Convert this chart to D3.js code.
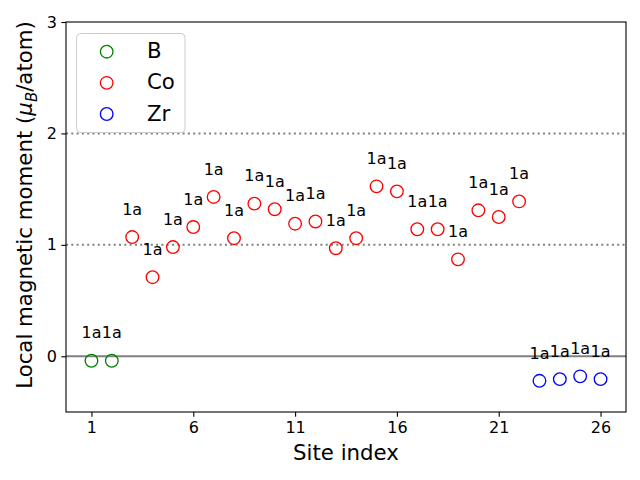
<!DOCTYPE html>
<html><head><meta charset="utf-8">
<script src="https://cdn.jsdelivr.net/npm/d3@7"></script>
<style>body{margin:0;background:#fff}svg{display:block;font-family:"DejaVu Sans",sans-serif}</style>
</head><body><svg id="c" width="640" height="480"></svg>
<script>
const siteIndex = d3.range(1, 27);
const species = ["B","B","Co","Co","Co","Co","Co","Co","Co","Co","Co","Co","Co","Co","Co","Co","Co","Co","Co","Co","Co","Co","Zr","Zr","Zr","Zr"];
const moments = [-0.04,-0.04,1.07,0.71,0.98,1.16,1.43,1.06,1.37,1.32,1.19,1.21,0.97,1.06,1.525,1.48,1.14,1.14,0.87,1.31,1.25,1.39,-0.22,-0.205,-0.18,-0.205];
const wyckoff = Array(26).fill("1a");
const legendNames = ["B","Co","Zr"];
const legendColors = ["green","red","blue"];
const xTicks = [1,6,11,16,21,26];
const yTicks = [0,1,2,3];
const refLines = [1,2];

const svg = d3.select("#c");
const L=66,R=626,T=22,B=412;
const x = d3.scaleLinear().domain([-0.25,27.25]).range([L,R]);
const y = d3.scaleLinear().domain([-0.5,3]).range([B,T]);
const color = d3.scaleOrdinal().domain(legendNames).range(legendColors);

// reference lines
svg.selectAll(".ref").data(refLines).enter().append("line")
  .attr("x1",L).attr("x2",R).attr("y1",d=>y(d)).attr("y2",d=>y(d))
  .attr("stroke","gray").attr("stroke-width",2).attr("stroke-dasharray","2,3.3");
svg.append("line").attr("x1",L).attr("x2",R).attr("y1",y(0)).attr("y2",y(0))
  .attr("stroke","gray").attr("stroke-width",2);

// points
const data = siteIndex.map((s,i)=>({s,v:moments[i],sp:species[i],w:wyckoff[i]}));
svg.selectAll(".pt").data(data).enter().append("circle")
  .attr("cx",d=>x(d.s)).attr("cy",d=>y(d.v)).attr("r",6.3)
  .attr("fill","none").attr("stroke",d=>color(d.sp)).attr("stroke-width",1.33);
svg.selectAll(".lbl").data(data).enter().append("text")
  .attr("x",d=>x(d.s)).attr("y",d=>y(d.v+0.2)).attr("text-anchor","middle")
  .attr("font-size","16px").attr("fill","#000").text(d=>d.w);

// axes
const xa = svg.append("g").attr("transform",`translate(0,${B})`)
  .call(d3.axisBottom(x).tickValues(xTicks).tickSize(4.67).tickPadding(4.5).tickFormat(d3.format("d")));
const ya = svg.append("g").attr("transform",`translate(${L},0)`)
  .call(d3.axisLeft(y).tickValues(yTicks).tickSize(4.67).tickPadding(4.5).tickFormat(d3.format("d")));
[xa,ya].forEach(g=>{g.select(".domain").remove();
  g.selectAll("text").attr("font-size","16px").attr("font-family","DejaVu Sans").attr("fill","#000");
  g.selectAll("line").attr("stroke","#000").attr("stroke-width",1.1);});
svg.append("rect").attr("x",L).attr("y",T).attr("width",R-L).attr("height",B-T)
  .attr("fill","none").attr("stroke","#000").attr("stroke-width",1.1);

// axis labels
svg.append("text").attr("x",(L+R)/2).attr("y",460).attr("text-anchor","middle")
  .attr("font-size","21.3px").text("Site index");
const yl = svg.append("text").attr("transform",`translate(32,205) rotate(-90)`)
  .attr("text-anchor","middle").attr("font-size","21.3px");
yl.append("tspan").text("Local magnetic moment (");
yl.append("tspan").attr("font-style","italic").text("μ");
yl.append("tspan").attr("font-style","italic").attr("font-size","15px").attr("dy",5).text("B");
yl.append("tspan").attr("dy",-5).text("/atom)");

// legend
const lg = svg.append("g");
lg.append("rect").attr("x",76.5).attr("y",33.5).attr("width",108.5).attr("height",99)
  .attr("rx",4).attr("fill","white").attr("fill-opacity",0.8).attr("stroke","#cccccc").attr("stroke-width",1);
const rowY = d3.scaleLinear().domain([0,2]).range([51.7,114]);
legendNames.forEach((n,i)=>{
  lg.append("circle").attr("cx",106.7).attr("cy",rowY(i)).attr("r",6.3)
    .attr("fill","none").attr("stroke",legendColors[i]).attr("stroke-width",1.33);
  lg.append("text").attr("x",147).attr("y",rowY(i)+6.5).attr("font-size","21.3px").text(n);
});
</script></body></html>
